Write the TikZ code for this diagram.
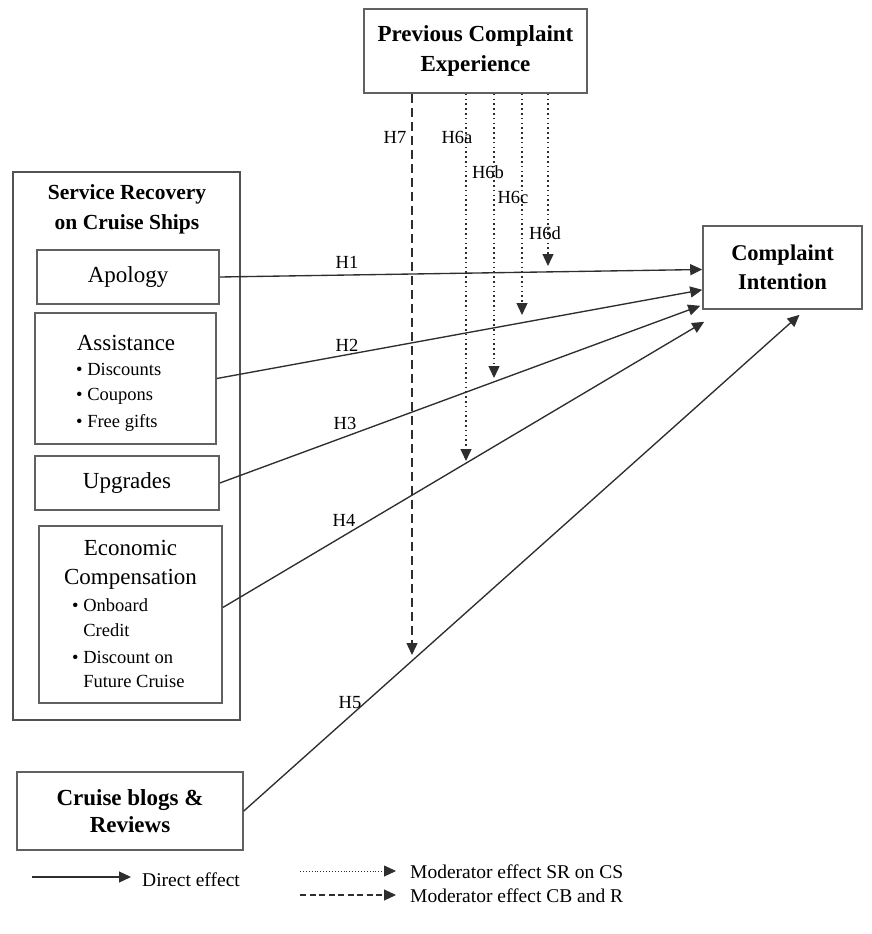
\documentclass[tikz,border=0pt]{standalone}
\usepackage{fontspec}
\setmainfont{Liberation Serif}
\usetikzlibrary{arrows.meta}
\begin{document}
\begin{tikzpicture}[x=1pt,y=-1pt,
  box/.style={draw=black!62, line width=1.6pt, fill=white, inner sep=0pt, align=center},
  outerbox/.style={draw=black!68, line width=2.4pt, inner sep=0pt},
  conn/.style={draw=black!82, line width=1.35pt, -{Triangle[length=12pt,width=11pt]}},
  dotarrow/.style={conn, dash pattern=on 1.6pt off 3.2pt},
  dasharrow/.style={conn, dash pattern=on 9pt off 5pt},
  hlabel/.style={font=\fontsize{18.5}{20}\selectfont, inner sep=0pt},
  bigbold/.style={font=\fontsize{23}{30}\selectfont\bfseries},
  head/.style={font=\fontsize{23}{29}\selectfont, inner sep=0pt, align=center},
  bullet/.style={font=\fontsize{18.5}{22}\selectfont, inner sep=0pt, anchor=west},
  legtext/.style={font=\fontsize{19.5}{21}\selectfont, inner sep=0pt, anchor=west}
]
\useasboundingbox (0,0) rectangle (871,934);

% boxes
\node[box, bigbold, minimum width=223pt, minimum height=84pt] (pce) at (475.5,51) {Previous Complaint\\Experience};
\node[box, font=\fontsize{22.5}{29}\selectfont\bfseries, minimum width=159pt, minimum height=83pt] (ci) at (782.5,267.5) {Complaint\\Intention};
\node[outerbox, minimum width=227pt, minimum height=548pt] (outer) at (126.5,446) {};
\node[head, font=\fontsize{21.5}{30}\selectfont\bfseries] (srtitle) at (127,209) {Service Recovery\\on Cruise Ships};

\node[box, minimum width=182pt, minimum height=54pt, font=\fontsize{23}{29}\selectfont] (apology) at (128,277) {Apology};
\node[box, minimum width=181pt, minimum height=131pt] (assist) at (125.5,378.5) {};
\node[head] (assisttxt) at (126,343) {Assistance};
\node[bullet] (b1) at (76,369) {\textbullet\ Discounts};
\node[bullet] (b2) at (76,396) {\textbullet\ Coupons};
\node[bullet] (b3) at (76,423) {\textbullet\ Free gifts};

\node[box, minimum width=184pt, minimum height=54pt, font=\fontsize{23}{29}\selectfont] (upgrades) at (127,483) {Upgrades};

\node[box, minimum width=183pt, minimum height=177pt] (eco) at (130.5,614.5) {};
\node[head] (ecotxt) at (130.5,565) {Economic\\Compensation};
\node[bullet] (e1) at (72,605) {\textbullet\ Onboard};
\node[bullet] (e2) at (72,630) {\phantom{\textbullet\ }Credit};
\node[bullet] (e3) at (72,657) {\textbullet\ Discount on};
\node[bullet] (e4) at (72,681) {\phantom{\textbullet\ }Future Cruise};

\node[box, font=\fontsize{23}{27}\selectfont\bfseries, minimum width=226pt, minimum height=78pt] (cruise) at (130,811) {Cruise blogs \&\\Reviews};

% direct effects
\draw[conn] (apology.east) -- ([yshift=-2pt]ci.west);
\draw[conn] (assist.east) -- ([yshift=20pt]ci.south west);
\draw[conn] (upgrades.east) -- ([shift={(-2pt,4pt)}]ci.south west);
\draw[conn] ([yshift=7pt]eco.east) -- ([shift={(2pt,-12pt)}]ci.south west);
\draw[conn] (cruise.east) -- ([shift={(17pt,-5pt)}]ci.south);

\node[hlabel] (h1) at (347,262) {H1};
\node[hlabel] (h2) at (347,345) {H2};
\node[hlabel] (h3) at (345,423) {H3};
\node[hlabel] (h4) at (344,520) {H4};
\node[hlabel] (h5) at (350,703) {H5};

% moderator effects
\coordinate (t7) at (412,655);
\coordinate (t6a) at (466,461);
\coordinate (t6b) at (494,378);
\coordinate (t6c) at (522,315);
\coordinate (t6d) at (548,266);
\draw[dasharrow] (pce.south -| t7) -- (t7);
\draw[dotarrow] (pce.south -| t6a) -- (t6a);
\draw[dotarrow] (pce.south -| t6b) -- (t6b);
\draw[dotarrow] (pce.south -| t6c) -- (t6c);
\draw[dotarrow] (pce.south -| t6d) -- (t6d);

\node[hlabel] (h7) at (395,137) {H7};
\node[hlabel] (h6a) at (457,137) {H6a};
\node[hlabel] (h6b) at (488,172) {H6b};
\node[hlabel] (h6c) at (513,197) {H6c};
\node[hlabel] (h6d) at (545,233) {H6d};

% legend
\coordinate (l1a) at (32,877);
\coordinate (l1b) at (131,877);
\coordinate (l2a) at (300,871);
\coordinate (l2b) at (396,871);
\coordinate (l3a) at (300,895);
\coordinate (l3b) at (396,895);
\draw[conn] (l1a) -- (l1b);
\draw[dotarrow, line width=0.8pt, dash pattern=on 0.9pt off 2pt] (l2a) -- (l2b);
\draw[dasharrow, line width=1.1pt, dash pattern=on 6pt off 3.5pt] (l3a) -- (l3b);
\node[legtext] (lt1) at (142,880) {Direct effect};
\node[legtext] (lt2) at (410,872) {Moderator effect SR on CS};
\node[legtext] (lt3) at (410,896) {Moderator effect CB and R};
\end{tikzpicture}
\end{document}
